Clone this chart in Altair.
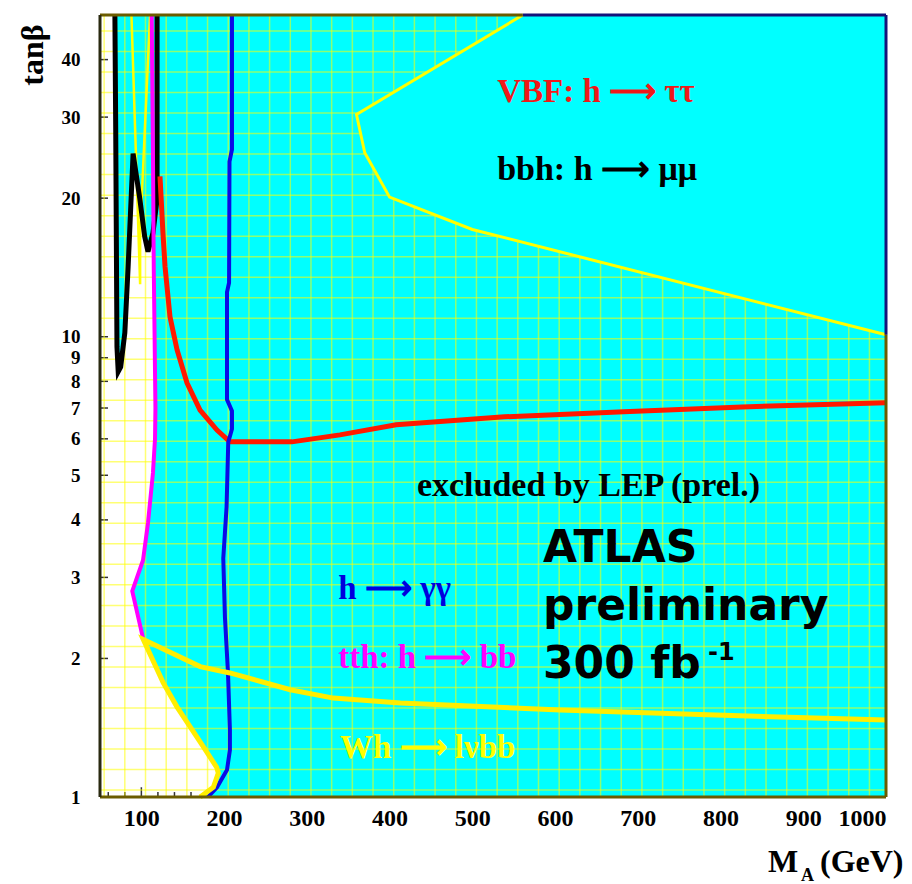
import altair as alt
import pandas as pd

# ---------------- data (M_A in GeV, tan beta) ----------------
x_tick_vals = [100, 200, 300, 400, 500, 600, 700, 800, 900, 1000]
y_tick_vals = [1, 2, 3, 4, 5, 6, 7, 8, 9, 10, 20, 30, 40]

# boundary of the white (not covered) region on the left
white_x = [50, 68, 69, 70.5, 72, 75, 80, 84, 90, 98, 104, 108, 113, 114.5, 116, 117, 116.5, 114, 108, 102, 89,
           102.3, 114, 126.5, 143, 159, 175, 191, 193, 187, 171, 50]
white_y = [50, 50, 28, 9.5, 8.4, 8.6, 10.2, 14.2, 25, 20, 16.5, 15.3, 16.3, 14, 10, 7, 6, 5.06, 3.94, 3.27, 2.8,
           2.2, 1.98, 1.77, 1.57, 1.42, 1.285, 1.16, 1.127, 1.05, 1.0, 1.0]

# bbh: h -> mumu (black)
black_x = [68, 69, 70.5, 72, 75, 80, 84, 90, 98, 104, 108, 114, 119, 119]
black_y = [50, 28, 9.5, 8.4, 8.6, 10.2, 14.2, 25, 20, 16.5, 15.3, 16.8, 19.9, 50]

# thin yellow V near the top left
yv_x = [88, 98.5, 98.5, 110.5]
yv_y = [50, 13, 16.8, 50]

# tth: h -> bb (magenta)
mag_x = [112.5, 114, 115, 116, 117, 116.5, 114, 108, 102, 89, 102.3]
mag_y = [50, 25, 14, 10, 7, 6, 5.06, 3.94, 3.27, 2.8, 2.2]

# VBF: h -> tautau (red)
red_x = [122.5, 126.1, 128.6, 134.6, 143.1, 155.1, 170.9, 191.4, 207, 282, 340, 408, 539, 683, 826, 1000]
red_y = [22.3, 16.8, 14.2, 11.05, 9.37, 7.94, 6.93, 6.27, 5.91, 5.91, 6.12, 6.44, 6.70, 6.87, 7.04, 7.19]

# h -> gamma gamma (blue)
blue_x = [209.5, 209.5, 206.5, 206, 203.5, 203.5, 209.5, 209.5, 205, 203, 199, 201, 204.7, 207, 207, 203.5, 191.4, 180.5]
blue_y = [50, 25.5, 24, 13.1, 12.5, 7.3, 6.9, 6.3, 5.9, 4.27, 3.3, 2.46, 1.86, 1.4, 1.265, 1.145, 1.05, 1.0]

# Wh -> l nu bb (yellow)
wh_x = [1000, 775, 606, 413, 332, 280, 207, 171, 102.3, 114, 126.5, 143, 159, 175, 191, 193, 187, 171]
wh_y = [1.47, 1.51, 1.546, 1.60, 1.64, 1.71, 1.86, 1.92, 2.2, 1.98, 1.77, 1.57, 1.42, 1.285, 1.16, 1.127, 1.05, 1.0]

# upper right region (yellow boundary)
ur_x = [561, 360, 370, 400, 500, 1000]
ur_y = [50, 30.4, 25.1, 20.1, 17.1, 10.1]

ARROW = "\u27f6"
ann_text = [f"VBF: h {ARROW}  \u03c4\u03c4", f"bbh: h {ARROW}  \u03bc\u03bc", "excluded by LEP (prel.)",
            f"h {ARROW} \u03b3\u03b3", f"tth: h {ARROW} bb", f"Wh {ARROW} l\u03bdbb"]
ann_x = [530, 530, 433, 338, 338, 340]
ann_y = [32.4, 21.9, 4.51, 2.69, 1.907, 1.216]
ann_color = ["#f01818", "#000000", "#000000", "#0000dd", "#ff00ff", "#ffff00"]
ann_size = [33, 34, 34, 33, 33, 33]

atlas_text = ["ATLAS", "preliminary", "300 fb"]
atlas_x = [585.4, 585.4, 585.4]
atlas_y = [3.243, 2.426, 1.814]
sup_text = ["-1"]
sup_x = [785]
sup_y = [1.986]

# ---------------- scales ----------------
XMIN, XMAX, YMIN, YMAX = 50, 1000, 1, 50
xs = alt.Scale(domain=[XMIN, XMAX], nice=False, zero=False)
ys = alt.Scale(type="log", domain=[YMIN, YMAX], nice=False)
SERIF = "Liberation Serif"

x_axis = alt.Axis(values=x_tick_vals, labelFont=SERIF, labelFontWeight="bold", labelFontSize=24,
                  labelColor="black", labelPadding=9, ticks=False, domain=False, grid=False, title=None,
                  format="d", labelOverlap=False)
y_axis = alt.Axis(values=y_tick_vals, labelFont=SERIF, labelFontWeight="bold", labelFontSize=19,
                  labelColor="black", labelPadding=20, ticks=False, domain=False, grid=False, title=None,
                  format="d", labelOverlap=False)


def X(field="x"):
    return alt.X(f"{field}:Q", scale=xs, axis=x_axis, title=None)


def Y(field="y"):
    return alt.Y(f"{field}:Q", scale=ys, axis=y_axis, title=None)


def path(xv, yv, **mark):
    df = pd.DataFrame({"x": xv, "y": yv, "i": list(range(len(xv)))})
    return alt.Chart(df).mark_line(**mark).encode(x=X(), y=Y(), order=alt.Order("i:Q"))


# white base
base_df = pd.DataFrame({"x": [XMIN], "x2": [XMAX], "y": [YMIN], "y2": [YMAX]})
base = alt.Chart(base_df).mark_rect(color="white").encode(x=X(), x2="x2", y=Y(), y2="y2")

# inner ticks (lie under the cyan, visible only on white)
ytick_df = pd.DataFrame({"x": [XMIN] * len(y_tick_vals), "x2": [59.7] * len(y_tick_vals), "y": y_tick_vals})
yticks = alt.Chart(ytick_df).mark_rule(color="#333333", strokeWidth=1.5).encode(x=X(), x2="x2", y=Y())
minor_x = list(range(60, 1001, 20))
xt_df = pd.DataFrame({"x": minor_x,
                      "y": [1.0] * len(minor_x),
                      "y2": [1.05 if v % 100 == 0 else 1.025 for v in minor_x]})
xticks = alt.Chart(xt_df).mark_rule(color="#333333", strokeWidth=1.5).encode(x=X(), y=Y(), y2="y2")

# cyan region = complement of the white region
bnd_x = white_x[1:-1]
bnd_y = white_y[1:-1]
cyan_x = [XMAX, XMAX] + bnd_x[::-1]
cyan_y = [YMAX, YMIN] + bnd_y[::-1]
CYAN = "#00ffff"
cyan = path(cyan_x, cyan_y, fill=CYAN, stroke=CYAN, strokeWidth=0.5)

# grid (uniform in screen space as in the original)
vgrid = pd.DataFrame({"x": [55 + 25 * k for k in range(38)]})
hgrid = pd.DataFrame({"y": [10 ** ((7 + 20.5 * k) / 460) for k in range(38)]})
gv = alt.Chart(vgrid).mark_rule(color="#ffff00", opacity=0.55, strokeWidth=1.5).encode(x=X())
gh = alt.Chart(hgrid).mark_rule(color="#ffff00", opacity=0.55, strokeWidth=1.5).encode(y=Y())

# upper-right cyan region without grid
ur = path(ur_x + [XMAX], ur_y + [YMAX], fill=CYAN, stroke=CYAN, strokeWidth=0.5)

curves = [
    path(yv_x, yv_y, color="#ffff00", strokeWidth=2.5),
    path(black_x, black_y, color="#000000", strokeWidth=5),
    path(mag_x, mag_y, color="#ff00ff", strokeWidth=4),
    path(red_x, red_y, color="#ff1a00", strokeWidth=5),
    path(blue_x, blue_y, color="#0a0ae6", strokeWidth=4),
    path(wh_x, wh_y, color="#ffee00", strokeWidth=5),
    path(ur_x, ur_y, color="#ffff00", strokeWidth=3),
]

# frame
frame_olive = pd.DataFrame({
    "x": [XMIN, XMIN, XMAX],
    "x2": [XMAX, 561, XMAX],
    "y": [YMIN, YMAX, YMIN],
    "y2": [YMIN, YMAX, 10.1],
})
frame_left = pd.DataFrame({"x": [XMIN], "x2": [XMIN], "y": [YMIN], "y2": [YMAX]})
frame_navy = pd.DataFrame({"x": [561, XMAX], "x2": [XMAX, XMAX], "y": [YMAX, 10.1], "y2": [YMAX, YMAX]})
f1 = alt.Chart(frame_olive).mark_rule(color="#6b5c00", strokeWidth=3).encode(x=X(), x2="x2", y=Y(), y2="y2")
f0 = alt.Chart(frame_left).mark_rule(color="#2a2a10", strokeWidth=3).encode(x=X(), x2="x2", y=Y(), y2="y2")
f2 = alt.Chart(frame_navy).mark_rule(color="#14147a", strokeWidth=3).encode(x=X(), x2="x2", y=Y(), y2="y2")

# annotations
ann_df = pd.DataFrame({"t": ann_text, "x": ann_x, "y": ann_y, "c": ann_color, "s": ann_size})
ann = alt.Chart(ann_df).mark_text(align="left", baseline="alphabetic", font=SERIF, fontWeight="bold").encode(
    x=X(), y=Y(), text="t:N", color=alt.Color("c:N", scale=None), size=alt.Size("s:Q", scale=None))

atlas_df = pd.DataFrame({"t": atlas_text, "x": atlas_x, "y": atlas_y})
atlas = alt.Chart(atlas_df).mark_text(align="left", baseline="alphabetic", font="DejaVu Sans",
                                      fontWeight="bold", fontSize=44, color="black").encode(
    x=X(), y=Y(), text="t:N")
sup_df = pd.DataFrame({"t": sup_text, "x": sup_x, "y": sup_y})
sup = alt.Chart(sup_df).mark_text(align="left", baseline="alphabetic", font="DejaVu Sans",
                                  fontWeight="bold", fontSize=24, color="black").encode(
    x=X(), y=Y(), text="t:N")

# axis titles
one = pd.DataFrame({"a": [0]})
ytitle = alt.Chart(one).mark_text(angle=270, align="center", baseline="middle", font=SERIF,
                                  fontWeight="bold", fontSize=32, color="black").encode(
    x=alt.value(-67), y=alt.value(40), text=alt.value("tan\u03b2"))
xt_m = alt.Chart(one).mark_text(align="left", baseline="alphabetic", font=SERIF,
                                fontWeight="bold", fontSize=32, color="black").encode(
    x=alt.value(668), y=alt.value(857), text=alt.value("M"))
xt_a = alt.Chart(one).mark_text(align="left", baseline="alphabetic", font=SERIF,
                                fontWeight="bold", fontSize=18, color="black").encode(
    x=alt.value(701), y=alt.value(866), text=alt.value("A"))
xt_g = alt.Chart(one).mark_text(align="left", baseline="alphabetic", font=SERIF,
                                fontWeight="bold", fontSize=32, color="black").encode(
    x=alt.value(720), y=alt.value(857), text=alt.value("(GeV)"))

chart = alt.layer(
    base, yticks, xticks, cyan, gv, gh, ur, *curves, f1, f0, f2, ann, atlas, sup, ytitle, xt_m, xt_a, xt_g
).properties(
    width=786, height=782,
    autosize=alt.AutoSizeParams(type="none"),
    padding={"left": 100, "top": 15, "right": 26, "bottom": 87},
    background="white",
).configure_view(stroke=None)

chart.save("out.html", embed_options={"renderer": "svg", "actions": False})
